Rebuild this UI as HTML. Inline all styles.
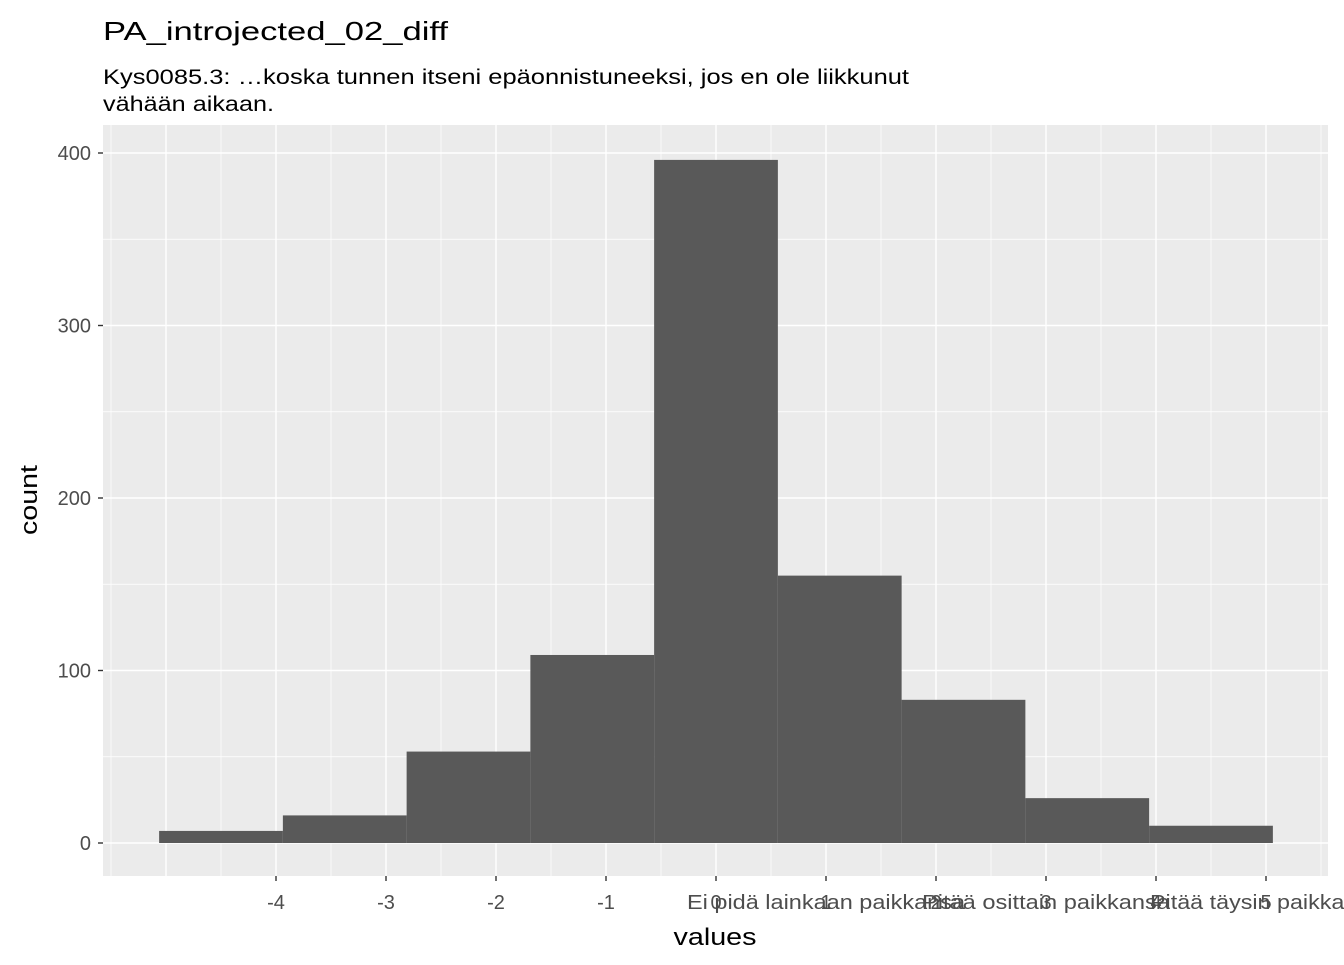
<!DOCTYPE html>
<html><head><meta charset="utf-8"><style>
body{margin:0;background:#fff;font-family:"Liberation Sans",Arial,sans-serif}
</style></head><body>
<svg width="1344" height="960" xmlns="http://www.w3.org/2000/svg" font-family="Liberation Sans, Arial, sans-serif">
<text x="103" y="40" font-size="26" textLength="345" lengthAdjust="spacingAndGlyphs" fill="#000">PA_introjected_02_diff</text>
<text x="103" y="84" font-size="21" textLength="806" lengthAdjust="spacingAndGlyphs" fill="#000">Kys0085.3: …koska tunnen itseni epäonnistuneeksi, jos en ole liikkunut</text>
<text x="103" y="111" font-size="21" textLength="171" lengthAdjust="spacingAndGlyphs" fill="#000">vähään aikaan.</text>
<rect x="103" y="125" width="1225" height="751" fill="#ebebeb"/>
<g id="grid"></g>
<g id="bars"></g>
<g id="axes"></g>
<text x="715" y="945" font-size="24" textLength="83" lengthAdjust="spacingAndGlyphs" text-anchor="middle" fill="#000">values</text>
<text transform="translate(37,500) rotate(-90)" font-size="24" textLength="70" lengthAdjust="spacingAndGlyphs" text-anchor="middle" fill="#000">count</text>
</svg>
<script>
const binCenters=[-4.5,-3.375,-2.25,-1.125,0,1.125,2.25,3.375,4.5];
const counts=[7,16,53,109,396,155,83,26,10];
const binWidth=1.125;
const xTicks=[-4,-3,-2,-1,0,1,2,3,4,5];
const xTickLabels=["-4","-3","-2","-1","0","1","2","3","4","5"];
const xExtraValues=[1,3,5];
const xExtraTexts=["Ei pidä lainkaan paikkansa","Pitää osittain paikkansa","Pitää täysin paikkansa"];
const xExtraWidths=[278,248,232];
const yTicks=[0,100,200,300,400];
const NS="http://www.w3.org/2000/svg";
const xs=v=>716+v*110, ys=v=>843-v*1.725;
function mk(tag,a,parent){const e=document.createElementNS(NS,tag);for(const k in a)e.setAttribute(k,a[k]);document.getElementById(parent).appendChild(e);return e;}
for(let v=-5.5;v<=5.5;v+=0.5){const x=xs(v);if(x<103||x>1328)continue;const major=Number.isInteger(v);
const l=mk('line',{x1:x,x2:x,y1:125,y2:876,stroke:'#fff','stroke-width':major?1.4:0.7},'grid');

}
for(let v=-50;v<=450;v+=50){const y=ys(v);if(y<125||y>876)continue;const major=v%100===0;
const l=mk('line',{x1:103,x2:1328,y1:y,y2:y,stroke:'#fff','stroke-width':major?1.4:0.7},'grid');

}
binCenters.forEach((c,i)=>{const x0=xs(c-binWidth/2),x1=xs(c+binWidth/2);
const r=mk('rect',{x:x0,y:ys(counts[i]),width:x1-x0,height:ys(0)-ys(counts[i]),fill:'#595959'},'bars');

});
yTicks.forEach(v=>{const y=ys(v);
const t=mk('line',{x1:98,x2:103,y1:y,y2:y,stroke:'#333','stroke-width':1.4},'axes');


const tx=mk('text',{x:91,y:y+7,'font-size':20,'text-anchor':'end',fill:'#4d4d4d'},'axes');tx.textContent=v;

});
xTicks.forEach((v,i)=>{const x=xs(v);
const t=mk('line',{x1:x,x2:x,y1:876,y2:881,stroke:'#333','stroke-width':1.4},'axes');


const tx=mk('text',{x:x,y:909,'font-size':20,'text-anchor':'middle',fill:'#4d4d4d'},'axes');tx.textContent=xTickLabels[i];

});
xExtraValues.forEach((v,i)=>{const tx=mk('text',{x:xs(v),y:909,'font-size':20,'text-anchor':'middle',textLength:xExtraWidths[i],lengthAdjust:'spacingAndGlyphs',fill:'#4d4d4d'},'axes');tx.textContent=xExtraTexts[i];

});
</script>
</body></html>
